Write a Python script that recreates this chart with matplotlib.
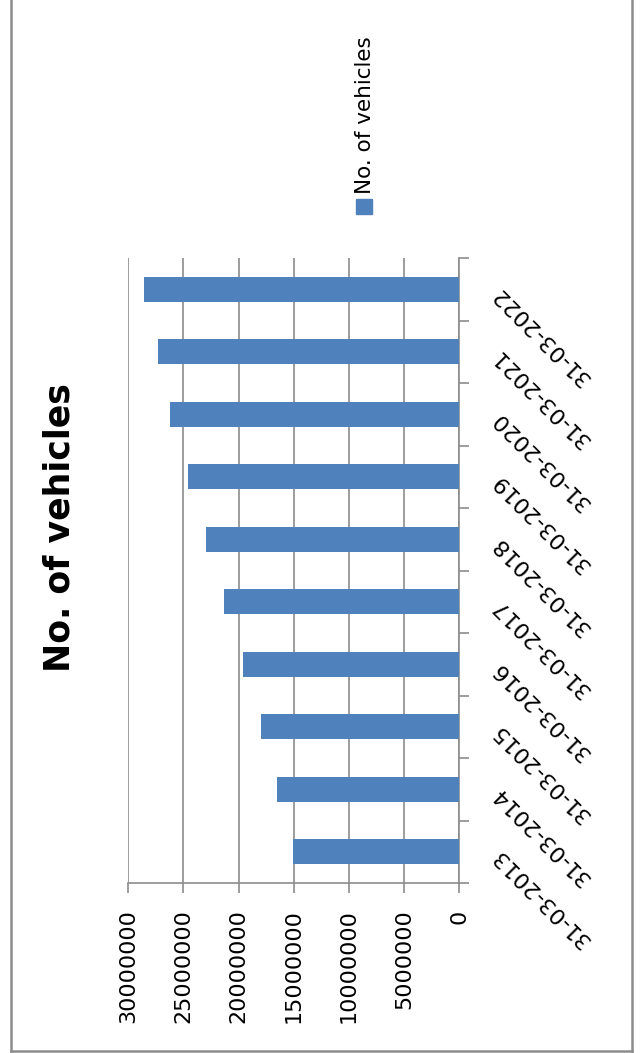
import numpy as np
import matplotlib.pyplot as plt
from matplotlib.patches import Rectangle
from matplotlib.lines import Line2D

# data
dates = ['31-03-2013', '31-03-2014', '31-03-2015', '31-03-2016', '31-03-2017',
         '31-03-2018', '31-03-2019', '31-03-2020', '31-03-2021', '31-03-2022']
vehicles = [15050000, 16500000, 18000000, 19600000, 21300000,
            23000000, 24600000, 26200000, 27300000, 28600000]
value_ticks = [0, 5000000, 10000000, 15000000, 20000000, 25000000, 30000000]
series_name = 'No. of vehicles'

bar_color = '#4F81BD'
axis_color = '#8c8c8c'

fig = plt.figure(figsize=(6.4, 10.53), dpi=100)
ax = fig.add_axes([0.2005, 0.1614, 0.517, 0.5935])

pos = np.arange(len(dates))
ax.barh(pos, vehicles, height=0.4, color=bar_color, zorder=3)

# value axis (runs right to left because the whole chart is turned)
ax.set_xlim(value_ticks[-1], value_ticks[0])
ax.set_xticks(value_ticks)
ax.set_xticklabels([str(v) for v in value_ticks], rotation=90, fontsize=16)
ax.tick_params(axis='x', length=7, width=1.2, color=axis_color, pad=12)
ax.grid(axis='x', color=axis_color, lw=1.2, zorder=0)
ax.set_axisbelow(True)

# category axis on the right
ax.set_ylim(-0.5, len(dates) - 0.5)
ax.yaxis.tick_right()
ax.set_yticks(pos)
ax.set_yticks(np.arange(-0.5, len(dates)), minor=True)
ax.tick_params(axis='y', which='major', length=0, pad=26)
ax.tick_params(axis='y', which='minor', length=7, width=1.2, color=axis_color)
ax.set_yticklabels(dates, rotation=135, rotation_mode='anchor',
                   ha='right', va='center', fontsize=16)

for side in ['left', 'top']:
    ax.spines[side].set_visible(False)
for side in ['right', 'bottom']:
    ax.spines[side].set_color(axis_color)
    ax.spines[side].set_linewidth(1.2)

# title
fig.text(59 / 640, 1 - 528 / 1053, series_name, rotation=90, ha='center', va='center',
         fontsize=25, fontweight='bold')

# legend, drawn turned like the rest
fig.patches.append(Rectangle((356 / 640, 1 - 214 / 1053), 16 / 640, 15 / 1053,
                             transform=fig.transFigure, color=bar_color))
fig.text(365 / 640, 1 - 194 / 1053, series_name, rotation=90, ha='center', va='bottom',
         fontsize=15.5)

# chart area border
bx0, bx1, by0 = 11 / 640, 632 / 640, 2 / 1053
for xs, ys in [([bx0, bx0], [by0, 1.01]), ([bx1, bx1], [by0, 1.01]), ([bx0, bx1], [by0, by0])]:
    fig.lines.append(Line2D(xs, ys, transform=fig.transFigure, color=axis_color, lw=1.8))

fig.savefig('out.png', dpi=100)
